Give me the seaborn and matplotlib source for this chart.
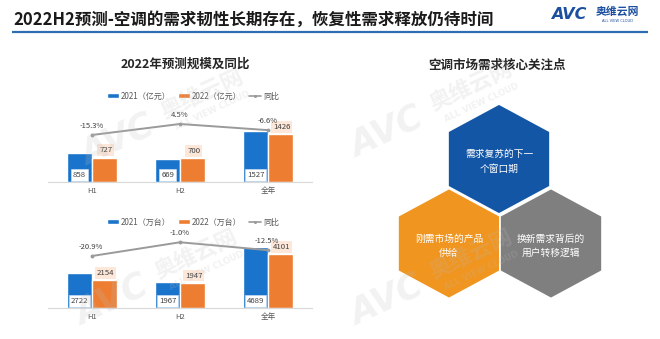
import numpy as np
import pandas as pd
import matplotlib
matplotlib.use("Agg")
import matplotlib.pyplot as plt
from matplotlib.patches import Polygon, Patch
from matplotlib.lines import Line2D
import seaborn as sns

# ---- data -------------------------------------------------------------
periods = ["H1", "H2", "全年"]
years = ["2021", "2022"]

sales_2021 = [858, 669, 1527]      # 亿元
sales_2022 = [727, 700, 1426]
sales_yoy = [-15.3, 4.5, -6.6]     # %

units_2021 = [2722, 1967, 4689]    # 万台
units_2022 = [2154, 1947, 4101]
units_yoy = [-20.9, -1.0, -12.5]   # %

focus_points = ["需求复苏的下一\n个窗口期", "刚需市场的产品\n供给", "换新需求背后的\n用户转移逻辑"]

main_title = "2022H2预测-空调的需求韧性长期存在，恢复性需求释放仍待时间"
left_title = "2022年预测规模及同比"
right_title = "空调市场需求核心关注点"

# ---- style ------------------------------------------------------------
sns.set_theme(style="white")
plt.rcParams["font.family"] = ["Noto Sans CJK SC", "DejaVu Sans"]

BLUE = "#1A74CC"
ORANGE = "#ED7D31"
LINE_GRAY = "#9A9A9A"
TXT = "#595959"

W, H = 660, 339
fig = plt.figure(figsize=(W / 100, H / 100), dpi=100)
fig.patch.set_facecolor("white")


def px_rect(x0, y0, x1, y1):
    return [x0 / W, 1 - y1 / H, (x1 - x0) / W, (y1 - y0) / H]


# background canvas in pixel units (titles, hexagons)
bg = fig.add_axes([0, 0, 1, 1], zorder=0)
bg.set_xlim(0, W)
bg.set_ylim(H, 0)
bg.axis("off")

bg.text(13, 19.5, main_title, fontsize=11.9, fontweight="bold", color="#1a1a1a",
        va="center", ha="left")
bg.plot([12, 648], [32, 32], color="#2E6DB4", lw=1.6, solid_capstyle="butt")

# logo
bg.text(551, 14.5, "AVC", fontsize=11.5, fontweight="heavy", fontstyle="italic",
        color="#1C4FA0", va="center", ha="left", family="DejaVu Sans")
bg.text(596, 12, "奥维云网", fontsize=7.8, fontweight="bold", color="#1C4FA0",
        va="center", ha="left")
bg.text(618, 20.5, "ALL VIEW CLOUD", fontsize=2.6, color="#1C4FA0",
        va="center", ha="center", family="DejaVu Sans")

bg.text(185, 64, left_title, fontsize=9, fontweight="bold", color="#262626",
        ha="center", va="center")
bg.text(497, 65, right_title, fontsize=9, fontweight="bold", color="#262626",
        ha="center", va="center")


def hexagon(cx, cy, R=55, hw=51):
    return [(cx, cy - R), (cx + hw, cy - R / 2), (cx + hw, cy + R / 2),
            (cx, cy + R), (cx - hw, cy + R / 2), (cx - hw, cy - R / 2)]


hex_specs = [((499, 159), "#1356A6"), ((449, 243.5), "#F0951F"), ((551, 243.5), "#7F7F7F")]
for ((cx, cy), col), label in zip(hex_specs, focus_points):
    bg.add_patch(Polygon(hexagon(cx, cy), closed=True, facecolor=col,
                         edgecolor="white", lw=1.2))
    bg.text(cx, cy + 2.5, label, color="white", fontsize=7, ha="center",
            va="center", linespacing=1.55)


# ---- bar + yoy panels ---------------------------------------------------
def panel(y_top, y_base, v21, v22, yoy, unit, bar_max, yoy_lim, legend_y):
    ax = fig.add_axes(px_rect(48, y_top, 312, y_base), zorder=2)
    ax.set_facecolor("none")
    df = pd.DataFrame({
        "period": periods * 2,
        "year": [years[0]] * 3 + [years[1]] * 3,
        "value": list(v21) + list(v22),
    })
    sns.barplot(data=df, x="period", y="value", hue="year",
                palette=[BLUE, ORANGE], width=0.56, gap=0, saturation=1,
                legend=False, ax=ax, order=periods, hue_order=years)
    ax.set_xlim(-0.5, 2.5)
    ax.set_ylim(0, bar_max)
    ax.set_xlabel("")
    ax.set_ylabel("")
    ax.set_yticks([])
    ax.tick_params(axis="x", length=0, pad=3.5, labelsize=5.5, labelcolor=TXT)
    for s in ("top", "right", "left"):
        ax.spines[s].set_visible(False)
    ax.spines["bottom"].set_color("#D9D9D9")
    ax.spines["bottom"].set_linewidth(0.8)

    # value labels: 2021 inside the bar foot, 2022 above the bar
    for bar, v in zip(ax.containers[0], v21):
        ax.annotate(f"{v}", (bar.get_x() + bar.get_width() / 2, 0),
                    xytext=(0, 5), textcoords="offset points",
                    ha="center", va="center", fontsize=5.6, color="#404040",
                    bbox=dict(boxstyle="square,pad=0.25", fc="white",
                              ec="#D6E4F2", lw=0.4))
    for bar, v in zip(ax.containers[1], v22):
        ax.annotate(f"{v}", (bar.get_x() + bar.get_width() / 2, v),
                    xytext=(1, 5.2), textcoords="offset points",
                    ha="center", va="center", fontsize=5.6, color="#404040",
                    bbox=dict(boxstyle="square,pad=0.25", fc="#FCE7D9",
                              ec="none"))

    ax2 = ax.twinx()
    ax2.set_facecolor("none")
    sns.lineplot(x=np.arange(len(periods)), y=yoy, ax=ax2, color=LINE_GRAY,
                 lw=1.4, marker="o", markersize=2.8, markeredgewidth=0)
    ax2.set_xlim(-0.5, 2.5)
    ax2.set_ylim(*yoy_lim)
    ax2.axis("off")
    for i, v in enumerate(yoy):
        ax2.annotate(f"{v:.1f}%", (i, v), xytext=(-0.5, 6.5),
                     textcoords="offset points", ha="center", va="center",
                     fontsize=5.5, color="#404040")

    handles = [Patch(facecolor=BLUE), Patch(facecolor=ORANGE),
               Line2D([], [], color=LINE_GRAY, lw=1.2, marker="o",
                      markersize=2.2, markeredgewidth=0)]
    labels = [f"2021（{unit}）", f"2022（{unit}）", "同比"]
    fig.legend(handles, labels, loc="center",
               bbox_to_anchor=(193 / W, 1 - legend_y / H), ncol=3,
               frameon=False, fontsize=5.8, handlelength=1.5,
               handleheight=0.45, handletextpad=0.25, columnspacing=0.9,
               labelcolor=TXT, borderaxespad=0, borderpad=0)
    return ax


panel(115.3, 181.7, sales_2021, sales_2022, sales_yoy, "亿元", 2000,
      (-99.3, 20.1), 96)
panel(229.5, 308.3, units_2021, units_2022, units_yoy, "万台", 6000,
      (-96.7, 17.5), 222)

# ---- faint brand watermark on top --------------------------------------
wm = fig.add_axes([0, 0, 1, 1], zorder=10)
wm.set_xlim(0, W)
wm.set_ylim(H, 0)
wm.axis("off")


def watermark(x, y, ang=25):
    t = np.deg2rad(ang)
    u = np.array([np.cos(t), -np.sin(t)])
    n = np.array([np.sin(t), np.cos(t)])
    kw = dict(color="#BDBDBD", alpha=0.2, rotation=ang, rotation_mode="anchor",
              ha="center", va="center")
    wm.text(x, y, "AVC", fontsize=25, fontweight="heavy", fontstyle="italic",
            family="DejaVu Sans", **kw)
    p = np.array([x, y]) + u * 95 - n * 6
    wm.text(p[0], p[1], "奥维云网", fontsize=16, fontweight="bold", **kw)
    q = np.array([x, y]) + u * 98 + n * 13
    wm.text(q[0], q[1], "ALL VIEW CLOUD", fontsize=6.2, family="DejaVu Sans",
            fontweight="bold", **kw)


for (x, y) in [(118, 140), (112, 300), (387, 132), (387, 300)]:
    watermark(x, y)

fig.savefig("out.png", dpi=100, facecolor="white")
